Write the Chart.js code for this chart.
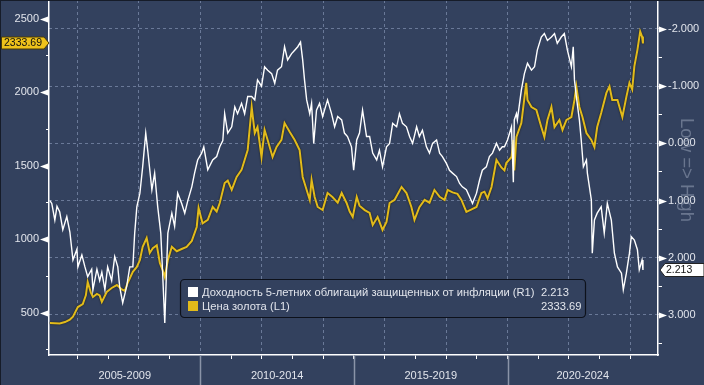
<!DOCTYPE html>
<html>
<head>
<meta charset="utf-8">
<script src="https://cdn.jsdelivr.net/npm/chart.js@4.4.1/dist/chart.umd.min.js"></script>
<style>
html,body{margin:0;padding:0;background:#33415e;overflow:hidden;}
canvas{display:block;}
</style>
</head>
<body>
<canvas id="c" width="704" height="385"></canvas>
<script>
// ---------------- DATA ----------------
const goldLabel = 'Цена золота (L1)';
const tipsLabel = 'Доходность 5-летних облигаций защищенных от инфляции (R1)';
const goldLast = '2333.69';
const tipsLast = '2.213';

const goldDates = [2005.10,2005.26,2005.42,2005.59,2005.75,2005.85,2006.01,2006.17,2006.27,2006.33,2006.43,2006.50,2006.63,2006.72,2006.79,2006.95,2007.11,2007.28,2007.44,2007.54,2007.63,2007.80,2007.93,2008.03,2008.12,2008.25,2008.35,2008.45,2008.58,2008.68,2008.77,2008.84,2008.94,2009.07,2009.23,2009.39,2009.55,2009.72,2009.88,2009.94,2010.07,2010.24,2010.40,2010.53,2010.63,2010.79,2010.89,2011.02,2011.18,2011.34,2011.44,2011.54,2011.67,2011.77,2011.86,2011.99,2012.09,2012.19,2012.35,2012.48,2012.64,2012.74,2012.91,2013.07,2013.23,2013.33,2013.46,2013.56,2013.62,2013.72,2013.82,2013.98,2014.14,2014.30,2014.47,2014.60,2014.76,2014.86,2014.96,2015.09,2015.18,2015.35,2015.51,2015.61,2015.77,2015.93,2016.06,2016.16,2016.32,2016.55,2016.71,2016.87,2016.97,2017.13,2017.30,2017.46,2017.62,2017.79,2017.95,2018.05,2018.21,2018.37,2018.50,2018.66,2018.83,2018.99,2019.15,2019.25,2019.35,2019.48,2019.64,2019.80,2019.90,2019.96,2020.13,2020.19,2020.22,2020.29,2020.45,2020.61,2020.65,2020.78,2020.94,2021.10,2021.20,2021.30,2021.43,2021.53,2021.69,2021.79,2021.92,2022.08,2022.18,2022.24,2022.34,2022.44,2022.57,2022.73,2022.83,2022.92,2023.05,2023.22,2023.32,2023.41,2023.58,2023.74,2023.87,2023.97,2024.06,2024.13,2024.23,2024.32,2024.38,2024.41];
const goldValues = [432,430,428,438,455,475,540,560,620,711,640,609,630,620,575,643,670,690,660,650,704,780,813,860,950,1010,908,940,960,840,792,745,860,950,920,935,950,990,1085,1214,1110,1133,1221,1190,1248,1384,1400,1337,1425,1473,1541,1609,1901,1724,1765,1561,1745,1677,1561,1629,1677,1792,1731,1677,1609,1425,1337,1269,1405,1289,1221,1200,1316,1289,1250,1316,1248,1190,1153,1289,1230,1200,1180,1099,1153,1065,1120,1248,1269,1357,1316,1221,1133,1220,1269,1250,1337,1290,1269,1337,1320,1310,1269,1187,1205,1221,1316,1325,1280,1357,1541,1490,1470,1520,1561,1677,1470,1697,1792,2065,1949,1901,1881,1765,1697,1813,1901,1765,1813,1745,1813,1833,1949,2041,1901,1833,1724,1677,1629,1765,1860,1997,2041,1949,1949,1833,1970,2065,2020,2177,2290,2415,2380,2333.69];

const tipsDates = [2005.10,2005.16,2005.26,2005.33,2005.42,2005.52,2005.65,2005.75,2005.85,2005.98,2006.01,2006.14,2006.24,2006.33,2006.46,2006.50,2006.63,2006.72,2006.79,2006.89,2006.98,2007.11,2007.21,2007.31,2007.37,2007.47,2007.60,2007.70,2007.80,2007.86,2007.93,2008.03,2008.12,2008.22,2008.29,2008.42,2008.51,2008.61,2008.71,2008.77,2008.84,2008.90,2008.94,2009.07,2009.16,2009.26,2009.39,2009.49,2009.59,2009.72,2009.81,2009.91,2010.04,2010.11,2010.24,2010.40,2010.53,2010.63,2010.73,2010.79,2010.89,2011.02,2011.12,2011.21,2011.34,2011.44,2011.54,2011.67,2011.77,2011.86,2011.99,2012.09,2012.19,2012.32,2012.42,2012.51,2012.64,2012.74,2012.84,2012.97,2013.07,2013.17,2013.26,2013.33,2013.39,2013.46,2013.56,2013.62,2013.69,2013.78,2013.88,2013.98,2014.14,2014.27,2014.37,2014.47,2014.60,2014.69,2014.79,2014.92,2014.99,2015.09,2015.18,2015.28,2015.41,2015.51,2015.61,2015.74,2015.83,2015.93,2016.06,2016.16,2016.26,2016.39,2016.48,2016.58,2016.71,2016.81,2016.91,2017.04,2017.13,2017.23,2017.36,2017.46,2017.56,2017.69,2017.79,2017.88,2018.01,2018.11,2018.21,2018.34,2018.44,2018.53,2018.66,2018.76,2018.86,2018.99,2019.09,2019.18,2019.31,2019.41,2019.51,2019.64,2019.74,2019.83,2019.90,2020.00,2020.13,2020.19,2020.22,2020.29,2020.32,2020.45,2020.55,2020.65,2020.78,2020.88,2020.97,2021.10,2021.20,2021.30,2021.43,2021.53,2021.62,2021.75,2021.85,2021.95,2022.08,2022.14,2022.18,2022.24,2022.34,2022.40,2022.47,2022.57,2022.60,2022.73,2022.76,2022.83,2022.92,2023.05,2023.15,2023.25,2023.38,2023.48,2023.58,2023.71,2023.77,2023.87,2023.97,2024.03,2024.13,2024.23,2024.29,2024.38,2024.41];
const tipsValues = [1.00,1.05,1.34,1.10,1.20,1.51,1.28,1.55,2.04,1.85,2.16,1.95,2.16,2.33,2.20,2.56,2.20,2.40,2.25,2.56,2.16,2.40,1.98,2.16,2.50,2.79,2.50,2.16,2.16,1.57,1.11,0.87,0.41,-0.18,0.15,0.81,0.52,1.11,1.57,2.27,3.14,2.16,1.57,1.22,1.45,0.87,1.05,1.22,1.00,0.76,0.52,0.29,0.17,0.06,0.46,0.29,0.23,0.06,-0.05,-0.52,-0.18,-0.29,-0.64,-0.52,-0.70,-0.52,-0.82,-0.82,-0.76,-1.11,-1.00,-1.34,-1.28,-1.22,-1.05,-1.28,-1.34,-1.69,-1.46,-1.57,-1.63,-1.69,-1.77,-1.46,-1.11,-0.76,-0.52,-0.70,0.00,-0.58,-0.70,-0.47,-0.76,-0.52,-0.29,-0.47,-0.41,-0.18,-0.12,0.06,0.47,-0.06,-0.18,-0.58,-0.12,-0.12,0.17,0.29,0.12,0.41,0.06,0.00,-0.35,-0.29,-0.52,-0.35,-0.29,-0.12,0.00,-0.29,-0.12,-0.23,0.06,0.17,0.00,-0.06,0.17,0.23,0.35,0.47,0.52,0.58,0.70,0.76,0.81,0.93,1.05,0.87,0.64,0.47,0.41,0.23,0.17,0.00,0.12,0.06,0.06,-0.06,-0.29,0.68,-0.41,-0.52,-0.41,-0.93,-1.22,-1.40,-1.28,-1.34,-1.63,-1.86,-1.92,-1.80,-1.86,-1.92,-1.75,-1.86,-1.92,-1.63,-1.34,-1.69,-1.11,-0.82,-0.41,-0.06,0.41,0.29,0.52,0.99,1.92,1.34,1.22,1.11,1.57,1.05,1.34,1.92,2.16,2.27,2.56,2.27,1.92,1.63,1.69,1.86,2.21,2.04,2.213];

const yearTicks = [2006,2007,2008,2009,2010,2011,2012,2013,2014,2015,2016,2017,2018,2019,2020,2021,2022,2023,2024];
const periodLabels = ['2005-2009','2010-2014','2015-2019','2020-2024'];
const periodBounds = [2005,2010,2015,2020,2025];
const leftTicks = [250,500,750,1000,1250,1500,1750,2000,2250,2500];
const rightTicks = [-2,-1.5,-1,-0.5,0,0.5,1,1.5,2,2.5,3,3.5];

// ---------------- STYLE ----------------
const BG = '#33415e';
const GRID = 'rgba(125,140,172,0.75)';
const GOLD = '#e2bb1b';
const TXT = '#e2e5ec';
const FONT = '"Liberation Sans", Arial, sans-serif';

const bgPlugin = {
  id: 'bg',
  beforeDraw(chart) {
    const c = chart.ctx;
    c.save();
    c.fillStyle = BG;
    c.fillRect(0, 0, chart.width, chart.height);
    c.restore();
  }
};

const goldShadow = {
  id: 'goldShadow',
  beforeDatasetDraw(chart, args) {
    if (args.index === 1) {
      chart.ctx.save();
      chart.ctx.shadowColor = 'rgba(20,18,5,0.85)';
      chart.ctx.shadowBlur = 2;
    }
  },
  afterDatasetDraw(chart, args) {
    if (args.index === 1) chart.ctx.restore();
  }
};

const decor = {
  id: 'decor',
  afterDraw(chart) {
    const c = chart.ctx;
    const xs = chart.scales.x, yl = chart.scales.y, yr = chart.scales.y1;
    const area = chart.chartArea;
    c.save();
    c.fillStyle = '#ffffff';
    leftTicks.filter(v => v % 500 === 0).forEach(v => {
      const y = Math.round(yl.getPixelForValue(v)) + 0.5;
      c.beginPath();
      c.moveTo(area.left - 1, y - 3);
      c.lineTo(area.left - 1, y + 3);
      c.lineTo(area.left - 9, y);
      c.closePath();
      c.fill();
    });
    rightTicks.filter(v => Number.isInteger(v)).forEach(v => {
      const y = Math.round(yr.getPixelForValue(v)) + 0.5;
      c.beginPath();
      c.moveTo(area.right + 1, y - 3);
      c.lineTo(area.right + 1, y + 3);
      c.lineTo(area.right + 9, y);
      c.closePath();
      c.fill();
    });
    c.strokeStyle = '#8b94a8';
    c.lineWidth = 1.5;
    for (let i = 1; i < periodBounds.length - 1; i++) {
      const x = Math.round(xs.getPixelForValue(periodBounds[i])) + 0.5;
      c.beginPath();
      c.moveTo(x, area.bottom);
      c.lineTo(x, chart.height);
      c.stroke();
    }
    c.fillStyle = TXT;
    c.font = '11px ' + FONT;
    c.textAlign = 'center';
    c.textBaseline = 'middle';
    periodLabels.forEach((lab, i) => {
      const a = Math.max(xs.getPixelForValue(periodBounds[i]), area.left);
      const b = Math.min(xs.getPixelForValue(periodBounds[i + 1]), area.right);
      c.fillText(lab, (a + b) / 2, 376);
    });
    c.save();
    c.translate(686, 170);
    c.rotate(Math.PI / 2);
    c.font = '18.5px ' + FONT;
    c.fillStyle = 'rgba(150,160,182,0.55)';
    c.textAlign = 'center';
    c.textBaseline = 'middle';
    c.fillText('Low => High', 0, 0);
    c.restore();

    const gy = Math.round(yl.getPixelForValue(goldValues[goldValues.length - 1]));
    c.beginPath();
    c.moveTo(1.5, gy - 6);
    c.lineTo(44, gy - 6);
    c.lineTo(49, gy);
    c.lineTo(44, gy + 6);
    c.lineTo(1.5, gy + 6);
    c.closePath();
    c.fillStyle = '#eec21b';
    c.fill();
    c.strokeStyle = '#4a3d08';
    c.lineWidth = 1;
    c.stroke();
    c.fillStyle = '#111';
    c.font = '10.5px ' + FONT;
    c.textAlign = 'center';
    c.fillText(goldLast, 23, gy + 0.5);

    const ty = Math.round(yr.getPixelForValue(tipsValues[tipsValues.length - 1]));
    c.beginPath();
    c.moveTo(704, ty - 6.5);
    c.lineTo(665, ty - 6.5);
    c.lineTo(660, ty);
    c.lineTo(665, ty + 6.5);
    c.lineTo(704, ty + 6.5);
    c.closePath();
    c.fillStyle = '#ffffff';
    c.fill();
    c.strokeStyle = '#222';
    c.stroke();
    c.fillStyle = '#111';
    c.textAlign = 'left';
    c.fillText(tipsLast, 666, ty + 0.5);

    const lx = 180.5, ly = 279.5, lw = 405, lh = 38;
    c.beginPath();
    c.roundRect(lx, ly, lw, lh, 4);
    c.fillStyle = BG;
    c.fill();
    c.strokeStyle = '#0d111b';
    c.lineWidth = 1.2;
    c.stroke();
    c.fillStyle = '#ffffff';
    c.fillRect(188, 287, 10, 10);
    c.fillStyle = GOLD;
    c.fillRect(188, 301, 10, 10);
    c.fillStyle = TXT;
    c.font = '11.2px ' + FONT;
    c.textAlign = 'left';
    c.textBaseline = 'middle';
    c.fillText(tipsLabel, 202, 292.5);
    c.fillText(goldLabel, 202, 306.5);
    c.fillText(tipsLast, 541, 292.5);
    c.fillText(goldLast, 541, 306.5);
    c.fillStyle = '#161c29';
    c.fillRect(0, 0, chart.width, 1);
    c.fillRect(0, 0, 1, chart.height);
    c.restore();
  }
};

const tickFont = { family: FONT, size: 11 };

new Chart(document.getElementById('c'), {
  type: 'line',
  data: {
    datasets: [
      {
        label: tipsLabel,
        data: tipsDates.map((t, i) => ({ x: t, y: tipsValues[i] })),
        yAxisID: 'y1',
        borderColor: '#ffffff',
        borderWidth: 1.4,
        pointRadius: 0,
        tension: 0,
        order: 0
      },
      {
        label: goldLabel,
        data: goldDates.map((t, i) => ({ x: t, y: goldValues[i] })),
        yAxisID: 'y',
        borderColor: GOLD,
        borderWidth: 2,
        pointRadius: 0,
        tension: 0,
        order: 1
      }
    ]
  },
  options: {
    responsive: false,
    animation: false,
    devicePixelRatio: 1,
    layout: { padding: 0, autoPadding: false },
    plugins: { legend: { display: false }, tooltip: { enabled: false } },
    scales: {
      x: {
        type: 'linear',
        min: 2005.07,
        max: 2024.9,
        afterBuildTicks: s => { s.ticks = yearTicks.map(v => ({ value: v })); },
        afterFit: s => { s.height = 30; s.paddingLeft = 0; s.paddingRight = 0; },
        grid: {
          color: ctx => (ctx.tick && ctx.tick.value % 2 === 0) ? GRID : 'rgba(0,0,0,0)',
          tickColor: '#ffffff',
          tickLength: 4,
          lineWidth: 1,
          drawTicks: true
        },
        border: { display: true, color: '#ffffff', width: 1.5, dash: [3, 3] },
        ticks: { display: false }
      },
      y: {
        position: 'left',
        min: 214,
        max: 2629,
        afterBuildTicks: s => { s.ticks = leftTicks.map(v => ({ value: v })); },
        afterFit: s => { s.width = 49; s.paddingTop = 0; s.paddingBottom = 0; },
        grid: { drawOnChartArea: false, tickColor: '#ffffff', tickLength: 3, drawTicks: true },
        border: { display: true, color: '#ffffff', width: 1.5 },
        ticks: {
          callback: v => (v % 500 === 0 ? String(v) : ''),
          color: TXT, font: tickFont, padding: 7
        }
      },
      y1: {
        position: 'right',
        reverse: true,
        min: -2.507,
        max: 3.70,
        afterBuildTicks: s => { s.ticks = rightTicks.map(v => ({ value: v })); },
        afterFit: s => { s.width = 46; s.paddingTop = 0; s.paddingBottom = 0; },
        grid: {
          color: ctx => (ctx.tick && Number.isInteger(ctx.tick.value)) ? GRID : 'rgba(0,0,0,0)',
          tickColor: '#ffffff',
          tickLength: 4,
          drawTicks: true
        },
        border: { display: true, color: '#ffffff', width: 1.5, dash: [3, 3] },
        ticks: {
          callback: v => (Number.isInteger(v) ? v.toFixed(3) : ''),
          color: TXT, font: tickFont, padding: 6
        }
      }
    }
  },
  plugins: [bgPlugin, goldShadow, decor]
});
</script>
</body>
</html>
